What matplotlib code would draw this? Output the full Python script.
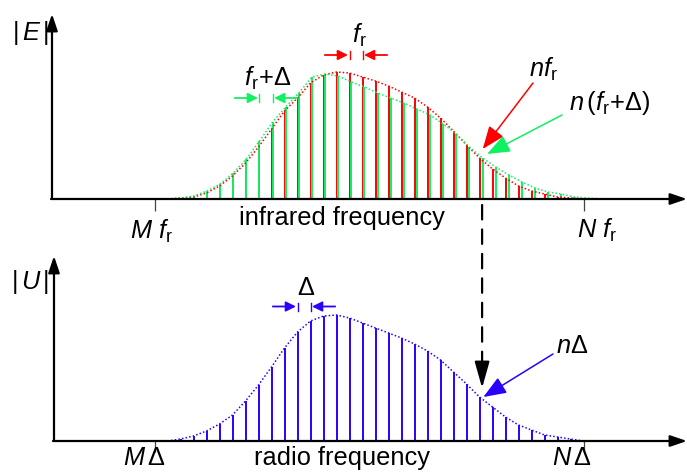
import matplotlib
matplotlib.use("Agg")
import matplotlib.pyplot as plt
from matplotlib.patches import ConnectionPatch
import numpy as np

plt.rcParams['font.family'] = ['Liberation Sans', 'DejaVu Sans']
plt.rcParams['mathtext.fontset'] = 'custom'
plt.rcParams['mathtext.rm'] = 'Liberation Sans'
plt.rcParams['mathtext.it'] = 'Liberation Sans:italic'
plt.rcParams['mathtext.bf'] = 'Liberation Sans:bold'

# ---------------- data (mode index n counted from M) ----------------
f_r = 1.0          # comb spacing (unit)
delta = 0.0095     # offset of the second comb, in units of f_r
M_idx = 0
N_idx = 33

n_red = list(range(2, 33))
red_amp = [1, 2, 6, 13, 23, 36, 52, 70, 88, 101, 116, 124, 127, 126, 122, 118,
           113, 107, 101, 92, 81, 68, 54, 41, 30, 21, 13, 8, 5, 2, 1]

n_green = list(range(2, 34))
green_amp = [1, 3, 8, 15, 26, 40, 58, 77, 92, 106, 122, 125, 123, 117, 112, 106,
             101, 96, 90, 84, 75, 65, 52, 41, 32, 24, 17, 11, 7, 5, 2, 1]

n_blue = list(range(2, 33))
blue_amp = [2, 5, 10, 17, 26, 40, 56, 74, 93, 109, 120, 125, 126, 123, 118, 113,
            108, 103, 97, 90, 81, 69, 57, 44, 34, 24, 16, 11, 6, 4, 2]

n_mark = 25  # the mode pointed at

RED = '#ff0000'
GREEN = '#10f060'
BLUE = '#2a00ff'

# ---------------- layout helpers (pixel layout -> data) ----------------
W, H = 687, 472
X0, SP = 154.5, 13.0          # pixel of M and pixel spacing of f_r
BASE_T, BASE_B = 199.0, 441.0  # baselines (pixels from top)


def X(px):
    return (px - X0) / SP


def YT(py):
    return BASE_T - py


def YB(py):
    return BASE_B - py


fig = plt.figure(figsize=(W / 100, H / 100), dpi=100)
axT = fig.add_axes([0, 0.5, 1, 0.5])
axB = fig.add_axes([0, 0.0, 1, 0.5])
axT.set_xlim(X(0), X(W)); axT.set_ylim(YT(236), YT(0))
axB.set_xlim(X(0), X(W)); axB.set_ylim(YB(472), YB(236))
for a in (axT, axB):
    a.axis('off')

FS = 18.3
ax_kw = dict(arrowstyle='-|>,head_length=10,head_width=3.4', mutation_scale=1,
             color='black', lw=1.6, shrinkA=0, shrinkB=0)

# axes with arrows
axT.annotate('', xy=(X(52), YT(14)), xytext=(X(52), 0), arrowprops=ax_kw)
axT.annotate('', xy=(X(687), 0), xytext=(X(51), 0), arrowprops=ax_kw)
axB.annotate('', xy=(X(54), YB(256)), xytext=(X(54), 0), arrowprops=ax_kw)
axB.annotate('', xy=(X(687), 0), xytext=(X(53), 0), arrowprops=ax_kw)

# M / N ticks
for a, Y in ((axT, YT), (axB, YB)):
    for idx in (M_idx, N_idx):
        a.plot([idx * f_r, idx * f_r], [0, Y(BASE_T + 12) if a is axT else Y(BASE_B + 11)],
               color='#444444', lw=0.9, solid_capstyle='butt')

# ---------------- combs ----------------
x_red = np.array(n_red) * f_r
x_green = np.array(n_green) * (f_r + delta)
x_blue = np.array(n_blue) * f_r

env_style = dict(ls=(0, (1.0, 1.4)), lw=1.1)


def envelope(ax, x, amp, color, step):
    ex = np.concatenate([[x[0] - step], x, [x[-1] + step]])
    ey = np.concatenate([[0], amp, [0]])
    ax.plot(ex, ey, color=color, **env_style)


stem_lw = 1.4
axT.vlines(x_red, 0, red_amp, color=RED, lw=stem_lw)
axT.vlines(x_green, 0, green_amp, color=GREEN, lw=stem_lw)
envelope(axT, x_red, red_amp, RED, f_r)
envelope(axT, x_green, green_amp, GREEN, f_r + delta)

axB.vlines(x_blue, 0, blue_amp, color=BLUE, lw=stem_lw)
envelope(axB, x_blue, blue_amp, BLUE, f_r)

# ---------------- spacing markers ----------------
mk_kw = dict(arrowstyle='-|>,head_length=6,head_width=3', mutation_scale=1,
             lw=1.3, shrinkA=0, shrinkB=0)


def spacing_marker(ax, xa, xb, y, color, L):
    ax.annotate('', xy=(xa - 0.12, y), xytext=(xa - L, y),
                arrowprops=dict(color=color, **mk_kw))
    ax.annotate('', xy=(xb + 0.12, y), xytext=(xb + L, y),
                arrowprops=dict(color=color, **mk_kw))
    for xx in (xa, xb):
        ax.plot([xx, xx], [y - 4, y + 4], color=color, lw=1.0)


spacing_marker(axT, 15 * f_r, 16 * f_r, YT(55), RED, 1.9)
spacing_marker(axT, 8 * (f_r + delta), 9 * (f_r + delta), YT(98), GREEN, 1.9)
spacing_marker(axB, 11 * f_r, 12 * f_r, YB(306.5), BLUE, 1.9)

# ---------------- labels ----------------
axT.text(X(12), YT(40), r'$|\,E\,|$', fontsize=FS, ha='left', va='baseline')
axB.text(X(11), YB(289), r'$|\,U\,|$', fontsize=FS, ha='left', va='baseline')
axT.text(X(342), YT(225), 'infrared frequency', fontsize=FS, ha='center', va='baseline')
axB.text(X(342), YB(465), 'radio frequency', fontsize=FS, ha='center', va='baseline')
axT.text(X(130), YT(239), r'$M\,\,f_{\mathrm{r}}$', fontsize=FS, ha='left', va='baseline')
axT.text(X(577), YT(238), r'$N\,\,f_{\mathrm{r}}$', fontsize=FS, ha='left', va='baseline')
axB.text(X(123), YB(465), r'$M\,\Delta$', fontsize=FS, ha='left', va='baseline')
axB.text(X(552), YB(465), r'$N\,\Delta$', fontsize=FS, ha='left', va='baseline')
axT.text(X(352), YT(43), r'$f_{\mathrm{r}}$', fontsize=FS, ha='left', va='baseline')
axT.text(X(244), YT(86), r'$f_{\mathrm{r}}\!+\!\Delta$', fontsize=FS, ha='left', va='baseline')
axB.text(X(297), YB(295), r'$\Delta$', fontsize=FS, ha='left', va='baseline')
axT.text(X(529), YT(77), r'$nf_{\mathrm{r}}$', fontsize=FS, ha='left', va='baseline')
axT.text(X(569), YT(110), r'$n\,(f_{\mathrm{r}}\!+\!\Delta)$', fontsize=FS, ha='left', va='baseline')
axB.text(X(556), YB(353), r'$n\Delta$', fontsize=FS, ha='left', va='baseline')

# ---------------- pointer arrows ----------------
ptr_kw = dict(arrowstyle='-|>,head_length=14,head_width=5.5', mutation_scale=1,
              lw=1.1, shrinkA=0, shrinkB=0)
i_r = n_red.index(n_mark)
i_g = n_green.index(n_mark)
i_b = n_blue.index(n_mark)
axT.annotate('', xy=(x_red[i_r] + 0.25, red_amp[i_r] + 9), xytext=(X(533), YT(83)),
             arrowprops=dict(color=RED, **ptr_kw))
axT.annotate('', xy=(x_green[i_g] + 0.35, green_amp[i_g] + 4), xytext=(X(562), YT(115)),
             arrowprops=dict(color=GREEN, **ptr_kw))
axB.annotate('', xy=(x_blue[i_b] + 0.3, blue_amp[i_b]), xytext=(X(553), YB(354)),
             arrowprops=dict(color=BLUE, **ptr_kw))

# dashed link from top comb to bottom comb
xd = x_red[i_r] + 0.2
con = ConnectionPatch(xyA=(xd, YT(205)), coordsA=axT.transData,
                      xyB=(xd, YB(372)), coordsB=axB.transData,
                      arrowstyle='-', lw=1.6, color='black',
                      linestyle=(0, (6.5, 4.5)), shrinkA=0, shrinkB=0)
fig.add_artist(con)
head = ConnectionPatch(xyA=(xd, YB(366)), coordsA=axB.transData,
                       xyB=(xd, YB(388)), coordsB=axB.transData,
                       arrowstyle='-|>,head_length=16,head_width=4.5', mutation_scale=1,
                       lw=1.6, color='black', shrinkA=0, shrinkB=0)
fig.add_artist(head)

fig.savefig('out.png', dpi=100)
